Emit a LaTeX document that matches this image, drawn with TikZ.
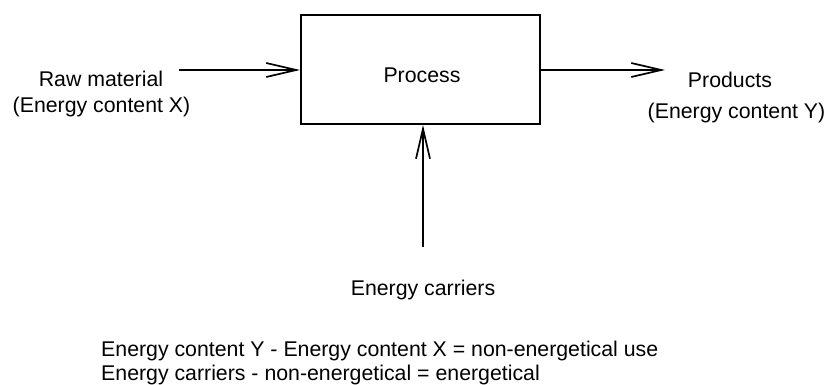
\documentclass[tikz,border=0pt]{standalone}
\usepackage{fontspec}
\setmainfont{Liberation Sans}
\usetikzlibrary{arrows.meta}
\begin{document}
\begin{tikzpicture}[x=1pt,y=-1pt,
  lbl/.style={anchor=base,inner sep=0pt,font=\fontsize{21.3}{25}\selectfont},
  flow/.style={line width=1.7pt,-{Straight Barb[length=30pt,width=14pt,line width=1.7pt]}},
  procbox/.style={draw,line width=2pt,minimum width=239pt,minimum height=109pt,inner sep=0pt}]
  \useasboundingbox (0,0) rectangle (828,385);
  % process block
  \node[procbox] (proc) at (420.5,69.5) {};
  \node[lbl] (proclbl) at (422,83) {Process};
  % inputs and outputs
  \coordinate (rawend) at (179,70);
  \coordinate (prodend) at (665,70);
  \coordinate (carrend) at (423,247);
  \draw[flow] (rawend) -- (rawend -| proc.west);
  \draw[flow] (proc.east |- prodend) -- (prodend);
  \draw[flow] (carrend) -- (carrend |- proc.south);
  % labels
  \node[lbl] (raw1) at (101,87) {Raw material};
  \node[lbl] (raw2) at (101.5,113) {(Energy content X)};
  \node[lbl] (prod1) at (730,88) {Products};
  \node[lbl] (prod2) at (736.5,119) {(Energy content Y)};
  \node[lbl] (carr) at (423,295) {Energy carriers};
  % balance equations
  \node[lbl,anchor=base west] (eq1) at (101,356) {Energy content Y - Energy content X = non-energetical use};
  \node[lbl,anchor=base west] (eq2) at (101,380) {Energy carriers - non-energetical = energetical};
\end{tikzpicture}
\end{document}
